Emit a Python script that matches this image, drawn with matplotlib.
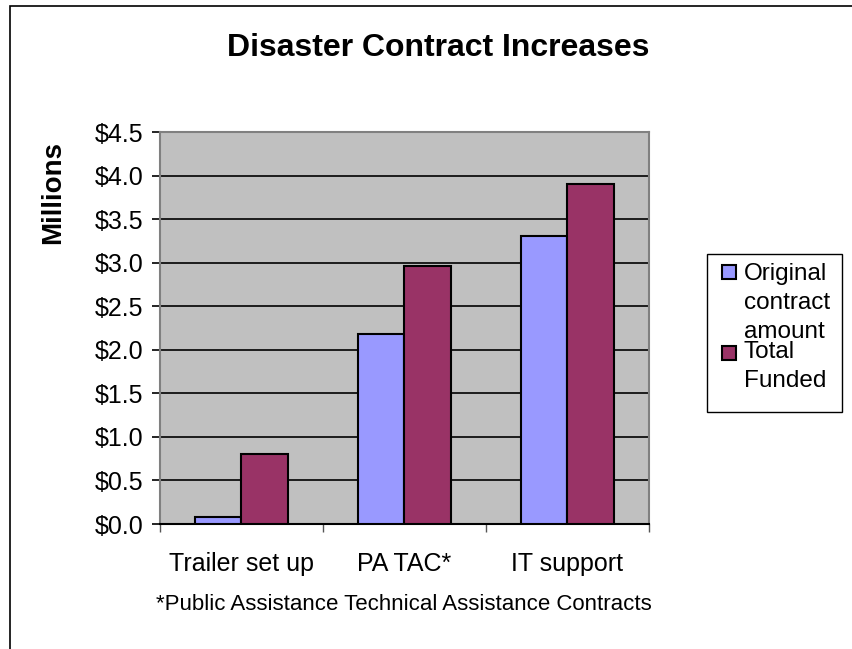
import matplotlib.pyplot as plt
import numpy as np
from matplotlib.patches import Rectangle

plt.rcParams['font.family'] = ['Liberation Sans', 'DejaVu Sans']

# contract values in millions of dollars
categories = ['Trailer set up', 'PA TAC*', 'IT support']
original_amount = [0.08, 2.18, 3.31]
total_funded = [0.80, 2.96, 3.90]
series_names = ['Original\ncontract\namount', 'Total\nFunded']
series_colors = ['#9999FF', '#993366']
y_ticks = [0.0, 0.5, 1.0, 1.5, 2.0, 2.5, 3.0, 3.5, 4.0, 4.5]

W, H = 853, 649
fig = plt.figure(figsize=(W / 100, H / 100), dpi=100)


def fx(px):
    return px / W


def fy(py):
    return 1 - py / H


# outer chart frame
fig.patches.append(Rectangle((fx(10), -0.1), 1.2, fy(6) + 0.1,
                             transform=fig.transFigure, fill=False,
                             edgecolor='black', linewidth=1.2))

ax = fig.add_axes([fx(160), fy(524), 489 / W, 392 / H])
ax.set_facecolor('#C0C0C0')

x = np.arange(len(categories))
width = 1 / 3.5
ax.bar(x - width / 2, original_amount, width, color=series_colors[0],
       edgecolor='black', linewidth=1.5, zorder=3)
ax.bar(x + width / 2, total_funded, width, color=series_colors[1],
       edgecolor='black', linewidth=1.5, zorder=3)

ax.set_xlim(-0.5, len(categories) - 0.5)
ax.set_ylim(0, 4.5)
ax.set_yticks(y_ticks)
ax.set_yticklabels(['$%.1f' % v for v in y_ticks], fontsize=18)
ax.yaxis.grid(True, color='black', linewidth=1.2, zorder=1)
ax.set_axisbelow(True)

ax.set_xticks(x)
ax.set_xticklabels(categories, fontsize=18)
ax.set_xticks(np.arange(-0.5, len(categories), 1), minor=True)
ax.tick_params(axis='x', which='major', length=0, pad=20)
ax.tick_params(axis='x', which='minor', length=6, width=1, color='#555555')
ax.tick_params(axis='y', length=6, width=1.2, pad=6)

for side in ['top', 'right', 'left']:
    ax.spines[side].set_color('#808080')
    ax.spines[side].set_linewidth(1.5)
ax.spines['bottom'].set_color('black')
ax.spines['bottom'].set_linewidth(1.5)

fig.text(fx(53), fy(192), 'Millions', fontsize=20, fontweight='bold',
         rotation=90, ha='center', va='center')

fig.text(fx(438), fy(48), 'Disaster Contract Increases',
         fontsize=23, fontweight='bold', ha='center', va='center')
fig.text(fx(404), fy(604),
         '*Public Assistance Technical Assistance Contracts',
         fontsize=16, ha='center', va='center')

# legend box with markers next to the first line of each entry
fig.patches.append(Rectangle((fx(707), fy(412)), 135 / W, 158 / H,
                             transform=fig.transFigure, facecolor='white',
                             edgecolor='black', linewidth=1.0))
for name, color, mark_y, text_y in zip(series_names, series_colors,
                                       [272, 353], [263, 341]):
    fig.patches.append(Rectangle((fx(722), fy(mark_y + 7)), 14 / W, 14 / H,
                                 transform=fig.transFigure, facecolor=color,
                                 edgecolor='black', linewidth=1.5))
    fig.text(fx(744), fy(text_y), name, fontsize=17.5, ha='left',
             va='top', linespacing=1.4)

fig.savefig('out.png', dpi=100)
